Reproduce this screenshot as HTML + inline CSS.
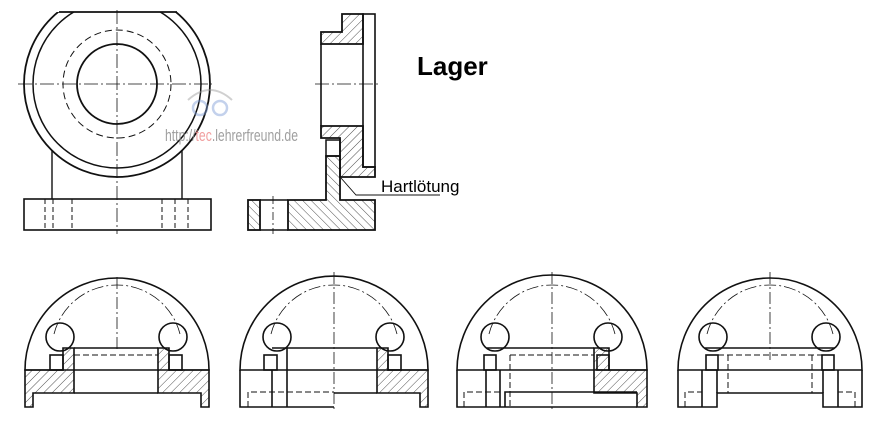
<!DOCTYPE html>
<html><head><meta charset="utf-8"><style>
html,body{margin:0;padding:0;background:#fff;width:880px;height:425px;overflow:hidden}
svg{display:block}
</style></head><body>
<svg width="880" height="425" viewBox="0 0 880 425" xmlns="http://www.w3.org/2000/svg">
<defs>
<pattern id="h" patternUnits="userSpaceOnUse" width="6" height="6" patternTransform="rotate(45)">
<line x1="0" y1="0" x2="0" y2="6" stroke="#222" stroke-width="0.8"/>
</pattern>
<pattern id="h2" patternUnits="userSpaceOnUse" width="6" height="6" patternTransform="rotate(-45)">
<line x1="0" y1="0" x2="0" y2="6" stroke="#222" stroke-width="0.8"/>
</pattern>
<clipPath id="topclip"><rect x="0" y="12" width="240" height="300"/></clipPath>
</defs>
<g fill="none" stroke="#111" stroke-width="1.8">
<!-- front view top-left -->
<g clip-path="url(#topclip)">
<circle cx="117" cy="84" r="93"/>
<circle cx="117" cy="84" r="84" stroke-width="1.5"/>
</g>
<line x1="59" y1="12" x2="177" y2="12"/>
<circle cx="117" cy="84" r="40"/>
<circle cx="117" cy="84" r="54" stroke-width="1" stroke-dasharray="7,4"/>
<line x1="52" y1="150" x2="52" y2="199" stroke-width="1.4"/>
<line x1="182" y1="150" x2="182" y2="199" stroke-width="1.4"/>
<rect x="24" y="199" width="187" height="31" stroke-width="1.6"/>
<g stroke-width="1" stroke-dasharray="5,3">
<line x1="45" y1="199" x2="45" y2="230"/><line x1="53" y1="199" x2="53" y2="230"/><line x1="72" y1="199" x2="72" y2="230"/>
<line x1="162" y1="199" x2="162" y2="230"/><line x1="175" y1="199" x2="175" y2="230"/><line x1="188" y1="199" x2="188" y2="230"/>
</g>
<g stroke-width="0.8" stroke-dasharray="14,3,2,3">
<line x1="18" y1="84" x2="212" y2="84"/>
<line x1="117" y1="10" x2="117" y2="234"/>
</g>
<!-- side view -->
<path d="M342 14 H363 V44 H321 V32 H342 Z" fill="url(#h)"/>
<rect x="363" y="14" width="12" height="153" stroke-width="1.6"/>
<line x1="321" y1="44" x2="321" y2="126" stroke-width="1.6"/>
<path d="M321 126 H363 V167 H375 V177 H340 V138 H321 Z" fill="url(#h)"/>
<rect x="326" y="140" width="14" height="16" stroke-width="1.5"/>
<path d="M326 156 H340 V200 H375 V230 H288 V200 H326 Z" fill="url(#h2)"/>
<rect x="248" y="200" width="12" height="30" fill="url(#h2)"/>
<line x1="260" y1="200" x2="288" y2="200" stroke-width="1.6"/>
<line x1="260" y1="230" x2="288" y2="230" stroke-width="1.6"/>
<line x1="273" y1="196" x2="273" y2="234" stroke-width="0.8" stroke-dasharray="8,3,2,3"/>
<line x1="315" y1="84" x2="380" y2="84" stroke-width="0.8" stroke-dasharray="14,3,2,3"/>
<polyline points="341,178 356,195 440,195" stroke-width="0.9"/>
</g>
<text x="417" y="75" font-family="Liberation Sans, sans-serif" font-weight="bold" font-size="26" fill="#000">Lager</text>
<text x="381" y="192" font-family="Liberation Sans, sans-serif" font-size="17" fill="#000">Hartlötung</text>
<!-- watermark -->
<g opacity="0.45" fill="none" stroke="#7b9bd6" stroke-width="2.5">
<circle cx="200" cy="108" r="7"/><circle cx="220" cy="108" r="7"/>
<path d="M188 100 Q210 80 232 100" stroke="#999" stroke-width="2"/>
</g>
<text x="165" y="141" font-family="Liberation Sans, sans-serif" font-size="17" fill="#888" opacity="0.8" textLength="133" lengthAdjust="spacingAndGlyphs">http://<tspan fill="#e88">tec</tspan>.lehrerfreund.de</text>

<!-- bottom views -->
<g fill="none" stroke="#111" stroke-width="1.6">
<!-- view 1 -->
<g transform="translate(117,370)">
<path d="M-92 0 A92 92 0 0 1 92 0 Z"/>
<path d="M-92 0 H-54 V-22 H-43 V23 H-84 V37 H-92 Z" fill="url(#h)"/>
<path d="M92 0 H52 V-22 H41 V23 H84 V37 H92 Z" fill="url(#h)"/>
<line x1="-43" y1="-22" x2="41" y2="-22"/><line x1="-43" y1="23" x2="41" y2="23"/>
<rect x="-67" y="-15" width="13" height="15"/><rect x="52" y="-15" width="13" height="15"/>
<circle cx="-57" cy="-33" r="14"/><circle cx="56" cy="-33" r="14"/>
<line x1="-43" y1="-15" x2="41" y2="-15" stroke-width="1" stroke-dasharray="6,3"/>
<path d="M-63 -36 A65 65 0 0 1 63 -36" stroke-width="0.8" stroke-dasharray="12,3,2,3"/>
<line x1="0" y1="-93" x2="0" y2="-20" stroke-width="0.8" stroke-dasharray="12,3,2,3"/>
<line x1="-30" y1="0" x2="45" y2="0" stroke-width="0.8" stroke-dasharray="12,3,2,3"/>
</g>
<!-- view 2 -->
<g transform="translate(334,370)">
<path d="M-94 0 A94 94 0 0 1 94 0 Z"/>
<path d="M94 0 H54 V-22 H43 V23 H86 V37 H94 Z" fill="url(#h)"/>
<path d="M-94 0 V37 H0"/>
<line x1="-62" y1="-22" x2="43" y2="-22"/><line x1="0" y1="23" x2="43" y2="23"/>
<line x1="-62" y1="0" x2="-62" y2="37"/><line x1="-47" y1="-22" x2="-47" y2="37"/>
<rect x="-70" y="-15" width="13" height="15"/><rect x="54" y="-15" width="13" height="15"/>
<circle cx="-57" cy="-33" r="14"/><circle cx="56" cy="-33" r="14"/>
<path d="M-86 37 V22 H0" stroke-width="1" stroke-dasharray="6,3"/>
<path d="M-63 -36 A65 65 0 0 1 63 -36" stroke-width="0.8" stroke-dasharray="12,3,2,3"/>
<line x1="0" y1="-98" x2="0" y2="42" stroke-width="0.8" stroke-dasharray="12,3,2,3"/>
</g>
<!-- view 3 -->
<g transform="translate(552,370)">
<path d="M-95 0 A95 95 0 0 1 95 0 Z"/>
<path d="M95 0 H57 V-22 H42 V23 H85 V37 H95 Z" fill="url(#h)"/>
<path d="M-95 0 V37 H85"/>
<path d="M-47 37 V22 H85"/>
<line x1="-65" y1="-22" x2="42" y2="-22"/>
<line x1="-66" y1="0" x2="-66" y2="37"/><line x1="-52" y1="0" x2="-52" y2="37"/>
<rect x="-68" y="-15" width="12" height="15"/><rect x="45" y="-15" width="12" height="15"/>
<circle cx="-57" cy="-33" r="14"/><circle cx="56" cy="-33" r="14"/>
<g stroke-width="1" stroke-dasharray="6,3"><line x1="-42" y1="-15" x2="42" y2="-15"/><line x1="-42" y1="-15" x2="-42" y2="37"/><path d="M-88 37 V22 H-52"/></g>
<path d="M-63 -36 A65 65 0 0 1 63 -36" stroke-width="0.8" stroke-dasharray="12,3,2,3"/>
<line x1="0" y1="-98" x2="0" y2="42" stroke-width="0.8" stroke-dasharray="12,3,2,3"/>
<line x1="0" y1="0" x2="42" y2="0" stroke-width="0.8" stroke-dasharray="12,3,2,3"/>
</g>
<!-- view 4 -->
<g transform="translate(770,370)">
<path d="M-92 0 A92 92 0 0 1 92 0 Z"/>
<path d="M-92 0 V37 H-53 V23 H53 V37 H92 V0"/>
<line x1="-65" y1="-22" x2="65" y2="-22"/>
<line x1="-68" y1="0" x2="-68" y2="37"/><line x1="-53" y1="0" x2="-53" y2="23"/>
<line x1="68" y1="0" x2="68" y2="37"/><line x1="53" y1="0" x2="53" y2="23"/>
<rect x="-64" y="-15" width="12" height="15"/><rect x="52" y="-15" width="12" height="15"/>
<circle cx="-57" cy="-33" r="14"/><circle cx="56" cy="-33" r="14"/>
<g stroke-width="1" stroke-dasharray="6,3"><line x1="-52" y1="-15" x2="52" y2="-15"/><line x1="-42" y1="-15" x2="-42" y2="23"/><line x1="42" y1="-15" x2="42" y2="23"/><path d="M-85 37 V22 H-68"/><path d="M85 37 V22 H68"/></g>
<path d="M-63 -36 A65 65 0 0 1 63 -36" stroke-width="0.8" stroke-dasharray="12,3,2,3"/>
<line x1="0" y1="-98" x2="0" y2="-10" stroke-width="0.8" stroke-dasharray="12,3,2,3"/>
</g>
</g>
</svg>
</body></html>
